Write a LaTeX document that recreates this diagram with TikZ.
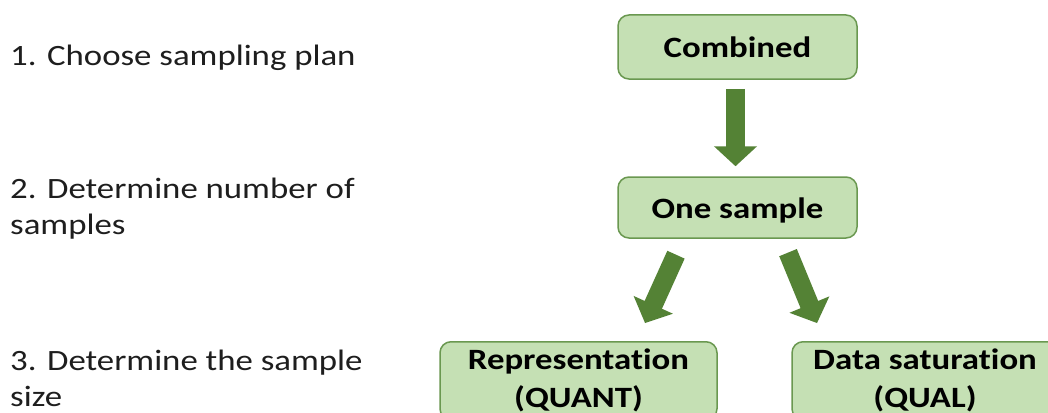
\documentclass[tikz,border=0pt]{standalone}
\usepackage{fontspec}
\setmainfont{Carlito}[FakeStretch=1.18, Ligatures=NoCommon]
\usetikzlibrary{arrows.meta}
\definecolor{boxfill}{HTML}{C5E0B4}
\definecolor{boxline}{HTML}{6A9850}
\definecolor{arrowgreen}{HTML}{548235}
\definecolor{steptextcol}{HTML}{1E1E1E}

\begin{document}
\begin{tikzpicture}[x=1pt,y=-1pt,
  stagebox/.style={draw=boxline, line width=1.5pt, fill=boxfill, rounded corners=11pt,
    inner sep=0pt, text=black, font=\bfseries\fontsize{29.5}{38}\selectfont},
  steptext/.style={anchor=base west, inner sep=0pt, text=steptextcol,
    font=\fontsize{29.5}{36}\selectfont},
  flow/.style={arrowgreen, line width=19pt, -{Triangle[width=42pt,length=20pt]}}]
\useasboundingbox (0,0) rectangle (1048,412);
\fill[white] (0,0) rectangle (1048,412);
\clip (0,0) rectangle (1048,412);

% steps on the left
\node[steptext] (s1) at (10,65) {1. Choose sampling plan};
\node[steptext] (s2) at (10,198) {\begin{tabular}[t]{@{}l@{}}2. Determine number of\\samples\end{tabular}};
\node[steptext] (s3) at (10,370) {\begin{tabular}[t]{@{}l@{}}3. Determine the sample\\size\end{tabular}};

% decision boxes
\node[stagebox, minimum width=239pt, minimum height=64pt, text height=20pt, text depth=0pt]
  (comb) at (737.5,47) {Combined};
\node[stagebox, minimum width=239pt, minimum height=61pt, text height=22pt, text depth=0pt]
  (one) at (737.5,207.5) {One sample};
\node[stagebox, anchor=north, minimum width=277pt, inner ysep=1pt]
  (rep) at (578.5,341) {\begin{tabular}[t]{@{}c@{}}Representation\\(QUANT)\end{tabular}};
\node[stagebox, anchor=north, minimum width=266pt, inner ysep=1pt]
  (dat) at (925,341) {\begin{tabular}[t]{@{}c@{}}Data saturation\\(QUAL)\end{tabular}};

% block arrows
\draw[flow, shorten <=9pt, shorten >=10pt] ([xshift=-2pt]comb.south) -- ([xshift=-2pt]one.north);
\draw[flow, shorten <=17.5pt, shorten >=19.7pt] ([xshift=-54.3pt]one.south) -- ([xshift=58.4pt]rep.north);
\draw[flow, shorten <=15pt, shorten >=19.4pt] ([xshift=44.8pt]one.south) -- ([xshift=-100.6pt]dat.north);
\end{tikzpicture}
\end{document}
